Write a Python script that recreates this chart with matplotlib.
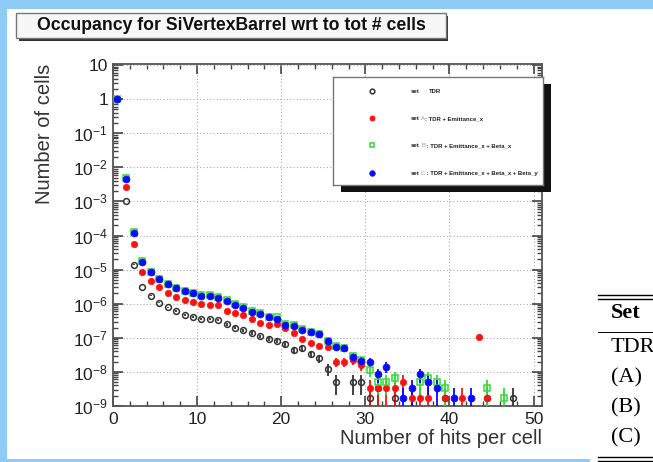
import numpy as np
import matplotlib
matplotlib.use('Agg')
import matplotlib.pyplot as plt
from matplotlib.patches import Rectangle
from matplotlib.lines import Line2D
from matplotlib.ticker import LogLocator, MultipleLocator, FuncFormatter, NullFormatter

plt.rcParams['font.family'] = ['Liberation Sans', 'DejaVu Sans']
plt.rcParams['mathtext.default'] = 'regular'

W, H = 653, 462

# number of cells (normalised) for each number of hits per cell, bins 0..47
nbins = 48
tdr = [1.0, 1.0e-3, 1.4e-5, 3.1e-6, 1.7e-6, 1.07e-6, 7.8e-7, 6.1e-7, 4.7e-7, 4.0e-7,
       3.5e-7, 3.6e-7, 3.3e-7, 2.5e-7, 2.0e-7, 1.7e-7, 1.4e-7, 1.1e-7, 9.1e-8, 8.1e-8,
       6.6e-8, 4.4e-8, 4.9e-8, 3.4e-8, 2.5e-8, 1.2e-8, 5.1e-9, 0, 5.1e-9, 5.1e-9,
       1.7e-9, 3.4e-9, 0, 1.7e-9, 0, 0, 0, 0, 0, 1.7e-9,
       0, 0, 0, 0, 1.7e-9, 0, 0, 1.7e-9]
setA = [1.0, 2.6e-3, 5.6e-5, 8.5e-6, 4.5e-6, 3.0e-6, 2.0e-6, 1.6e-6, 1.3e-6, 1.12e-6,
        9.8e-7, 9.1e-7, 8.9e-7, 6.1e-7, 5.2e-7, 4.7e-7, 3.5e-7, 2.8e-7, 2.4e-7, 2.5e-7,
        1.9e-7, 1.35e-7, 9.1e-8, 7.1e-8, 5.9e-8, 5.2e-8, 2.0e-8, 2.0e-8, 2.2e-8, 1.6e-8,
        3.4e-9, 3.4e-9, 3.4e-9, 3.4e-9, 5.1e-9, 1.7e-9, 1.7e-9, 1.7e-9, 0, 1.7e-9,
        0, 1.7e-9, 0, 1.07e-7, 1.7e-9, 0, 0, 0]
setB = [1.0, 4.8e-3, 1.3e-4, 1.8e-5, 8.6e-6, 5.4e-6, 3.9e-6, 2.9e-6, 2.4e-6, 2.05e-6,
        1.75e-6, 1.75e-6, 1.6e-6, 1.25e-6, 9.8e-7, 8.0e-7, 6.1e-7, 5.2e-7, 4.2e-7, 4.0e-7,
        2.6e-7, 2.3e-7, 1.8e-7, 1.5e-7, 1.3e-7, 8.2e-8, 5.9e-8, 5.0e-8, 2.9e-8, 2.2e-8,
        1.15e-8, 5.1e-9, 5.1e-9, 6.8e-9, 0, 0, 5.1e-9, 6.8e-9, 5.1e-9, 3.4e-9,
        0, 0, 0, 0, 3.4e-9, 0, 1.7e-9, 0]
setC = [1.0, 4.6e-3, 1.2e-4, 1.7e-5, 8.3e-6, 5.2e-6, 3.8e-6, 2.8e-6, 2.35e-6, 2.0e-6,
        1.7e-6, 1.7e-6, 1.5e-6, 1.2e-6, 9.2e-7, 7.6e-7, 5.9e-7, 5.0e-7, 4.0e-7, 3.5e-7,
        2.4e-7, 2.2e-7, 1.7e-7, 1.44e-7, 1.3e-7, 7.8e-8, 5.5e-8, 4.9e-8, 2.7e-8, 2.1e-8,
        2.0e-8, 8.5e-9, 1.4e-8, 0, 1.7e-9, 3.4e-9, 8.5e-9, 5.1e-9, 3.4e-9, 0,
        1.7e-9, 0, 1.7e-9, 0, 0, 0, 0, 0]
one_cell = 1.7e-9   # value of a single entry

legend_sets = ['', 'A', 'B', 'C']
legend_defs = ['TDR', ': TDR + Emittance_x', ' : TDR + Emittance_x + Beta_x',
               ' : TDR + Emittance_x + Beta_x + Beta_y']
table_rows = ['TDR', '(A)', '(B)', '(C)']

styles = [
    dict(marker='o', mfc='none', mec='#333333', color='#333333', ms=4.2, mew=1.1),
    dict(marker='o', mfc='#ff1010', mec='#ff1010', color='#ff1010', ms=4.6, mew=0.5),
    dict(marker='s', mfc='none', mec='#33dd33', color='#33dd33', ms=4.0, mew=1.1),
    dict(marker='o', mfc='#0a0aff', mec='#0a0aff', color='#0a0aff', ms=5.0, mew=0.5),
]


def fx(px):
    return px / W


def fy(py):
    return 1 - py / H


fig = plt.figure(figsize=(W / 100, H / 100), dpi=100)
fig.patch.set_facecolor('#8ecbf6')
fig.patches.append(Rectangle((fx(7), fy(459)), 1, (459 - 9) / H, transform=fig.transFigure,
                             facecolor='white', edgecolor='none', zorder=-10))
fig.patches.append(Rectangle((fx(590), 0), 1, 5 / H, transform=fig.transFigure,
                             facecolor='white', edgecolor='none', zorder=-10))

ax = fig.add_axes([fx(113), fy(406), (542 - 113) / W, (406 - 64) / H])
ax.set_yscale('log')
centers = np.arange(nbins) + 0.5

for vals, st in zip([tdr, setA, setB, setC], styles):
    v = np.array(vals, dtype=float)
    err = np.sqrt(v * one_cell)
    lo = np.clip(np.minimum(err, v - 1.02e-9), 0, None)
    v[v == 0] = np.nan
    ax.errorbar(centers, v, yerr=[lo, err], fmt='none', ecolor=st['color'], elinewidth=1.3, zorder=3)
    ax.plot(centers, v, ls='none', marker=st['marker'], mfc=st['mfc'], mec=st['mec'],
            ms=st['ms'], mew=st['mew'], zorder=4)

ax.set_xlim(0, 51)
ax.set_ylim(1e-9, 10.7)
ax.xaxis.set_major_locator(MultipleLocator(10))
ax.xaxis.set_minor_locator(MultipleLocator(2))
ax.yaxis.set_major_locator(LogLocator(base=10, numticks=20))
ax.yaxis.set_minor_locator(LogLocator(base=10, subs=np.arange(2, 10), numticks=20))
ax.yaxis.set_minor_formatter(NullFormatter())


def ylab(v, pos):
    e = int(round(np.log10(v)))
    if e == 1:
        return '10'
    if e == 0:
        return '1'
    return r'$10^{%d}$' % e


ax.yaxis.set_major_formatter(FuncFormatter(ylab))
ax.tick_params(which='both', direction='in', top=True, right=True, colors='#444444',
               labelcolor='#222222', labelsize=12.5)
ax.tick_params(which='major', length=7, width=1.2)
ax.tick_params(which='minor', length=3.5, width=1.0)
ax.tick_params(axis='x', pad=4)
ax.grid(True, which='major', ls=(0, (1, 2)), color='#aaaaaa', lw=0.8)
for s in ax.spines.values():
    s.set_color('#555555')
    s.set_linewidth(1.3)
ax.set_xlabel('Number of hits per cell', loc='right', fontsize=14.5, color='#333333', labelpad=2)
ax.set_ylabel('Number of cells', loc='top', fontsize=14.5, color='#333333', labelpad=14)

# title box
fig.patches.append(Rectangle((fx(19), fy(41)), (448 - 19) / W, (41 - 16) / H, transform=fig.transFigure,
                             facecolor='#333333', edgecolor='none', zorder=1))
fig.patches.append(Rectangle((fx(16), fy(38)), (446 - 16) / W, (38 - 13) / H, transform=fig.transFigure,
                             facecolor='#f7f7f7', edgecolor='#777777', lw=1, zorder=2))
fig.text(fx(231), fy(26), 'Occupancy for SiVertexBarrel wrt to tot # cells', ha='center', va='center',
         fontsize=12.7, fontweight='bold', color='#111111', zorder=3)

# legend box
fig.patches.append(Rectangle((fx(341), fy(192)), (543 - 333) / W, (185 - 77) / H, transform=fig.transFigure,
                             facecolor='#111111', edgecolor='none', zorder=4))
leg = fig.add_axes([fx(333), fy(185), (543 - 333) / W, (185 - 77) / H])
leg.set_zorder(5)
leg.set_xlim(0, 210)
leg.set_ylim(108, 0)
leg.set_xticks([])
leg.set_yticks([])
for s in leg.spines.values():
    s.set_color('#777777')
    s.set_linewidth(1)
rows_y = [14.5, 41.5, 68.5, 96.5]
fs_leg = 4.3
for i, st in enumerate(styles):
    leg.plot([39], [rows_y[i]], ls='none', marker=st['marker'], mfc=st['mfc'], mec=st['mec'],
             ms=st['ms'] * 0.8, mew=st['mew'])
    leg.text(78, rows_y[i], 'set', ha='left', va='center', fontsize=fs_leg, fontweight='bold', color='#222222')
    if legend_sets[i]:
        leg.text(88, rows_y[i], legend_sets[i], ha='left', va='center', fontsize=fs_leg, color='#999999')
        leg.text(92, rows_y[i], legend_defs[i], ha='left', va='center', fontsize=fs_leg,
                 fontweight='bold', color='#222222')
    else:
        leg.text(96, rows_y[i], legend_defs[i], ha='left', va='center', fontsize=fs_leg,
                 fontweight='bold', color='#222222')

# table fragment on the right
for yy, lw in [(295, 1.0), (299, 1.0), (331.5, 0.7), (456.5, 1.0), (460.5, 1.0)]:
    fig.add_artist(Line2D([fx(598), 1], [fy(yy), fy(yy)], transform=fig.transFigure, color='black', lw=lw))
fig.text(fx(611), fy(313), 'Set', ha='left', va='center', fontsize=16, fontweight='bold',
         family='Liberation Serif', color='black')
for yy, r in zip([347, 378, 408, 438], table_rows):
    fig.text(fx(611), fy(yy), r, ha='left', va='center', fontsize=16,
             family='Liberation Serif', color='black')

fig.savefig('out.png', dpi=100, facecolor=fig.get_facecolor())
